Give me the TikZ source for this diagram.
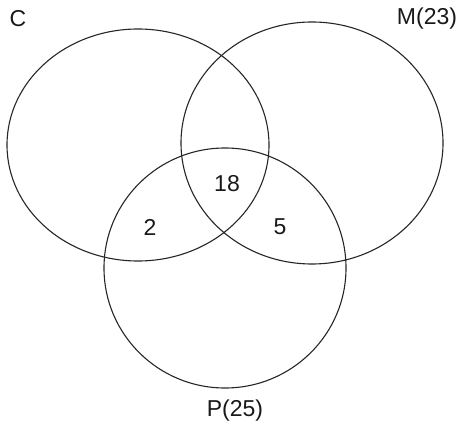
\documentclass[tikz,border=0pt]{standalone}
\usepackage{fontspec}
\setmainfont{Liberation Sans}
\begin{document}
\begin{tikzpicture}[x=1pt,y=-1pt,
  setring/.style={draw=black!85,line width=1.1pt},
  lbl/.style={font=\fontsize{23}{25}\selectfont,text=black!90,inner sep=0pt}]
\useasboundingbox (0,0) rectangle (462,427);
\draw[setring] (138,145) ellipse [x radius=131,y radius=116];
\draw[setring] (312,143) ellipse [x radius=131,y radius=121];
\draw[setring] (225,268) ellipse [x radius=121,y radius=120];
\node[lbl] (c) at (18,19) {C};
\node[lbl] (m) at (427,19) {M(23)};
\node[lbl] (p) at (235,411) {P(25)};
\node[lbl] (n18) at (227,184) {18};
\node[lbl] (n2) at (150,227) {2};
\node[lbl] (n5) at (280,227) {5};
\end{tikzpicture}
\end{document}
